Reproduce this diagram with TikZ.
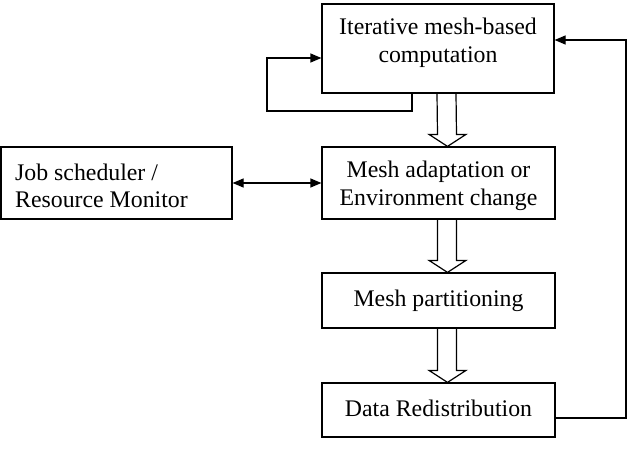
\documentclass[tikz,border=0pt]{standalone}
\usepackage{fontspec}
\setmainfont{Liberation Serif}
\usetikzlibrary{arrows.meta,calc}
\tikzset{
  box/.style={draw, line width=1.2pt, inner sep=0pt},
  lbl/.style={font=\fontsize{23.8}{27.5}\selectfont, align=center, inner sep=0pt},
  conn/.style={line width=1.2pt, -{Triangle[length=11pt,width=9pt]}},
  hollow/.style={line width=1.2pt, line join=miter},
}
\newcommand\harrow[2]{%
  \draw[hollow] ($(#1.south)+(-1,0)$) -- ($(#2.north)+(-1,-12)$) -- ($(#2.north)+(-9.5,-12)$)
    -- ($(#2.north)+(9,0)$) -- ($(#2.north)+(27.5,-12)$) -- ($(#2.north)+(18,-12)$)
    -- ($(#1.south)+(18,0)$);}
\begin{document}
\begin{tikzpicture}[x=1pt,y=-1pt]
\useasboundingbox (0,0) rectangle (635,452);
% boxes
\node[box, minimum width=232pt, minimum height=89pt] (comp) at (438,48.5) {};
\node[lbl] (comptext) at (438,43) {Iterative mesh-based\\computation};
\node[box, minimum width=233pt, minimum height=72pt] (adapt) at (438.5,183) {};
\node[lbl] (adapttext) at (438.5,186) {Mesh adaptation or\\Environment change};
\node[box, minimum width=231pt, minimum height=72pt] (job) at (116.5,183) {};
\node[lbl, align=left, anchor=west] (jobtext) at (15,186) {Job scheduler /\\Resource Monitor};
\node[box, minimum width=233pt, minimum height=55pt] (part) at (438.5,300.5) {};
\node[lbl] (parttext) at (438.5,300.5) {Mesh partitioning};
\node[box, minimum width=233pt, minimum height=54pt] (data) at (438.5,410) {};
\node[lbl] (datatext) at (438.5,408) {Data Redistribution};
% hollow arrows
\harrow{comp}{adapt}
\harrow{adapt}{part}
\harrow{part}{data}
% loop
\coordinate (l1) at (412,111);
\coordinate (l2) at (267,111);
\coordinate (l3) at (267,58);
\draw[conn] (comp.south -| l1) -- (l1) -- (l2) -- (l3) -- (l3 -| comp.west);
% job <-> adapt
\draw[line width=1.2pt, {Triangle[length=11pt,width=9pt]}-{Triangle[length=11pt,width=9pt]}] (job.east) -- (adapt.west);
% return
\coordinate (r1) at (626,418);
\coordinate (r2) at (626,40);
\draw[conn] (r1 -| data.east) -- (r1) -- (r2) -- (r2 -| comp.east);
\end{tikzpicture}
\end{document}
